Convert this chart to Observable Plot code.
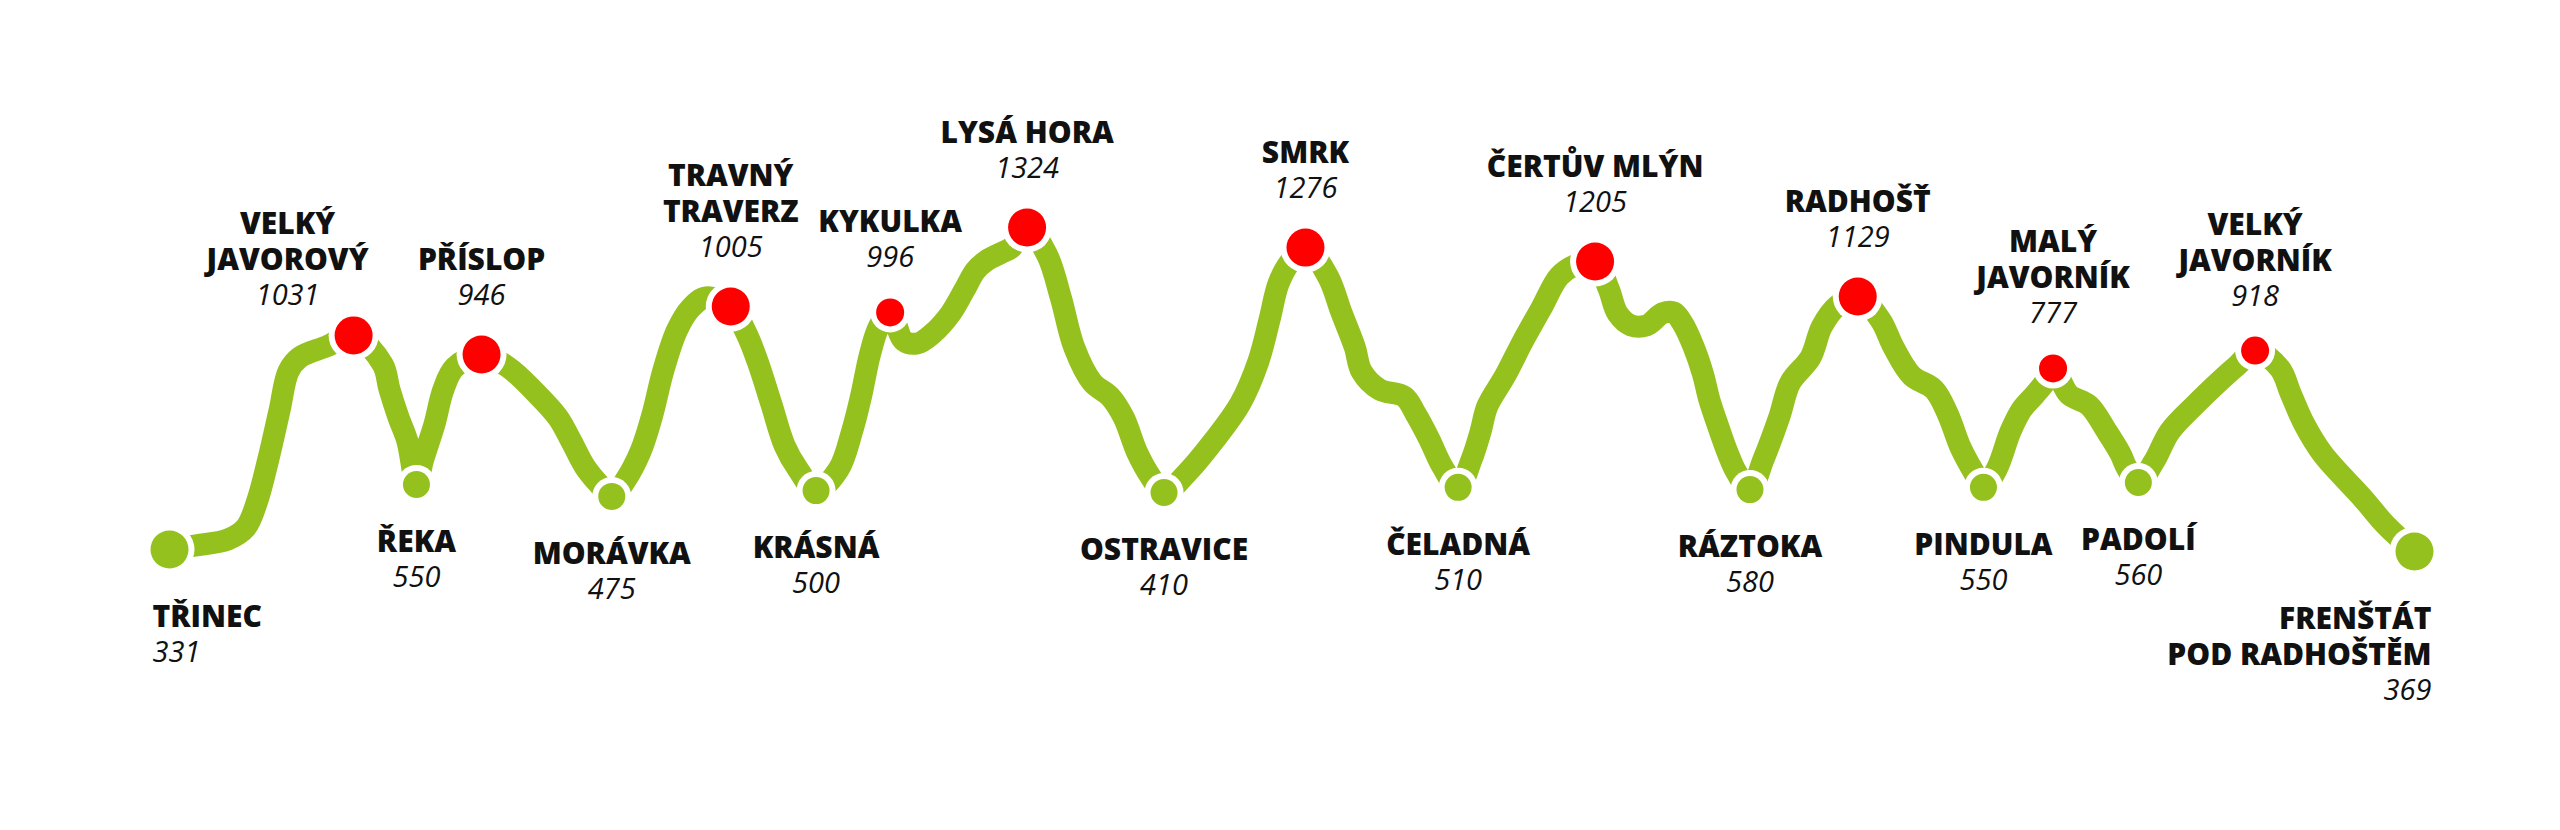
<!DOCTYPE html>
<html>
<head>
<meta charset="utf-8">
<script src="https://cdn.jsdelivr.net/npm/d3@7"></script>
<script src="https://cdn.jsdelivr.net/npm/@observablehq/plot@0.6"></script>
<style>
  html, body { margin: 0; padding: 0; background: #ffffff; }
  #chart svg { display: block; }
</style>
</head>
<body>
<div id="chart"></div>
<script>
// ---------- DATA ----------
// Stations along the ridge, in order
const stationNames = [
  "TŘINEC", "VELKÝ\nJAVOROVÝ", "ŘEKA", "PŘÍSLOP", "MORÁVKA",
  "TRAVNÝ\nTRAVERZ", "KRÁSNÁ", "KYKULKA", "LYSÁ HORA", "OSTRAVICE",
  "SMRK", "ČELADNÁ", "ČERTŮV MLÝN", "RÁZTOKA", "RADHOŠŤ",
  "PINDULA", "MALÝ\nJAVORNÍK", "PADOLÍ", "VELKÝ\nJAVORNÍK", "FRENŠTÁT\nPOD RADHOŠTĚM"
];
// Elevations in metres, as printed
const stationElevations = [331, 1031, 550, 946, 475, 1005, 500, 996, 1324, 410,
                           1276, 510, 1205, 580, 1129, 550, 777, 560, 918, 369];
// Kind of station: start/finish, main summit, minor summit, valley
const stationKinds = ["end", "peak", "valley", "peak", "valley", "peak", "valley", "minor", "peak", "valley",
                      "peak", "valley", "peak", "valley", "peak", "valley", "minor", "valley", "minor", "end"];
// Schematic distance (0–100) and schematic profile height (0–100) as drawn
const stationKm = [0, 8.2, 11.0, 13.9, 19.7, 25.0, 28.8, 32.1, 38.2, 44.3,
                   50.6, 57.4, 63.5, 70.4, 75.2, 80.8, 83.9, 87.7, 92.9, 100];
const stationHeight = [0.6, 66.7, 20.7, 60.8, 17.0, 75.6, 18.8, 73.8, 100, 18.2,
                       93.8, 19.8, 89.5, 19.1, 78.7, 19.8, 56.5, 21.3, 62.0, 0];

// The drawn profile line (schematic distance / schematic height)
const trackKm = [
  0, 1.2, 2.6, 3.4, 3.9, 4.4, 4.9, 5.3, 5.8, 7.0,
  8.2, 9.5, 9.8, 10.2, 10.6,
  11.0, 11.3, 11.8, 12.2, 12.7,
  13.9, 15.1, 16.3, 17.3, 17.9, 18.5, 19.1,
  19.7, 20.3, 21.0, 21.5, 22.0, 22.6, 23.2, 23.9,
  25.0, 25.7, 26.2, 26.8, 27.4, 28.0,
  28.8, 29.8, 30.4, 30.8, 31.2, 31.6,
  32.1, 32.7, 33.3, 34.0, 34.8, 35.4, 35.9, 36.4, 37.0, 37.5,
  38.2, 39.1, 39.7, 40.3, 41.1, 41.9, 42.5, 43.1, 43.7,
  44.3, 45.3, 46.5, 47.7, 48.5, 49.0, 49.4, 49.9,
  50.6, 51.6, 52.2, 52.8, 53.1, 53.9, 55.0, 55.5, 56.1, 56.7,
  57.4, 58.0, 58.4, 58.7, 59.5, 60.3, 61.1, 61.9, 62.6,
  63.5, 64.1, 64.5, 65.1, 65.8, 66.5, 67.0, 67.4, 67.9, 68.3, 68.6, 69.0, 69.4, 69.8,
  70.4, 71.0, 71.7, 72.2, 73.1, 73.6, 74.3,
  75.2, 76.2, 76.8, 77.6, 78.6, 79.2, 79.8, 80.4,
  80.8, 81.4, 82.0, 82.5, 83.1, 83.5,
  83.9, 84.6, 85.5, 86.3, 86.9, 87.2,
  87.7, 88.4, 89.1, 90.2, 91.4, 92.1,
  92.9, 94.0, 94.5, 95.1, 95.9, 96.8, 97.7, 98.7,
  100
];
const trackHeight = [
  0.6, 1.9, 3.7, 7.4, 15.4, 28.4, 43.5, 55.6, 59.9, 63.3,
  66.7, 57.7, 50.0, 41.4, 34.0,
  20.7, 28.4, 39.2, 50.0, 56.8,
  60.8, 56.8, 49.1, 41.4, 34.0, 26.2, 21.0,
  17.0, 21.9, 31.2, 42.0, 55.9, 68.2, 75.0, 78.4,
  75.6, 67.3, 58.6, 45.7, 32.7, 25.3,
  18.8, 25.3, 37.0, 47.8, 60.8, 69.4,
  73.8, 65.1, 64.2, 67.3, 73.5, 80.6, 86.7, 89.8, 92.0, 93.8,
  100, 91.4, 78.4, 63.0, 52.2, 47.8, 41.4, 30.6, 23.1,
  18.2, 24.1, 34.0, 45.7, 58.6, 71.6, 82.7, 89.2,
  93.8, 84.9, 73.8, 63.0, 55.6, 50.0, 47.8, 42.6, 34.9, 26.2,
  19.8, 28.4, 37.0, 44.8, 54.3, 65.1, 75.0, 84.9, 88.3,
  89.5, 81.2, 73.5, 69.8, 69.8, 73.5, 73.8, 70.4, 63.0, 54.9, 46.6, 38.3, 30.6, 24.4,
  19.1, 28.4, 41.4, 52.2, 59.9, 69.4, 75.9,
  78.7, 71.6, 63.0, 54.3, 50.0, 42.6, 31.8, 24.1,
  19.8, 25.6, 37.0, 43.8, 48.5, 51.9,
  56.5, 48.5, 45.1, 37.0, 30.2, 25.6,
  21.3, 27.8, 37.0, 45.1, 53.1, 57.4,
  62.0, 56.5, 48.5, 39.2, 30.2, 23.1, 16.4, 8.3,
  0
];

// ---------- STYLE ----------
const GREEN = "#95c11f";
const RED = "#fe0000";
const FONT = "'Open Sans', 'Noto Sans', sans-serif";
const NAME_SIZE = 30;
const NUM_SIZE = 29;
const NAME_GAP = 36;   // baseline distance between two name lines
const NUM_GAP = 35;    // baseline distance between name and elevation
const radius = {end: 19, peak: 19, minor: 14, valley: 13.5};
const RING = 6;
// label nudge where the designer moved a label to avoid a collision
const nudge = {"VELKÝ\nJAVOROVÝ": {dx: -66, dy: 20}};

// ---------- TABLES ----------
const stations = stationNames.map((name, i) => ({
  name, elevation: stationElevations[i], kind: stationKinds[i],
  km: stationKm[i], h: stationHeight[i]
}));
const track = trackKm.map((km, i) => ({km, h: trackHeight[i]}));

// one row per text line, with its baseline offset from the dot
const labelRows = [];
stations.forEach((s, i) => {
  const lines = s.name.split("\n");
  const r = radius[s.kind];
  const n = nudge[s.name] || {dx: 0, dy: 0};
  let anchor = "middle", dx = n.dx;
  if (i === 0) { anchor = "start"; dx = -17; }
  if (i === stations.length - 1) { anchor = "end"; dx = 17; }
  if (s.kind === "peak" || s.kind === "minor") {
    const numBase = -(r + 31) + n.dy;
    labelRows.push({...s, text: String(s.elevation), base: numBase, italic: true, anchor, dx});
    lines.forEach((t, j) => labelRows.push({
      ...s, text: t, italic: false, anchor, dx,
      base: numBase - NUM_GAP - NAME_GAP * (lines.length - 1 - j)
    }));
  } else {
    const first = r + 54 + (s.kind === "end" ? 4 : 0) + n.dy;
    lines.forEach((t, j) => labelRows.push({...s, text: t, base: first + NAME_GAP * j, italic: false, anchor, dx}));
    labelRows.push({
      ...s, text: String(s.elevation), italic: true, anchor, dx,
      base: first + NAME_GAP * (lines.length - 1) + NUM_GAP
    });
  }
});

const textMarks = d3.groups(labelRows, d => [d.base, d.anchor, d.dx, d.italic].join("|")).map(([, rows]) => {
  const r0 = rows[0];
  const fs = r0.italic ? NUM_SIZE : NAME_SIZE;
  return Plot.text(rows, {
    x: "km", y: "h", text: "text",
    dx: r0.dx, dy: r0.base - 0.32 * fs,   // default middle line anchor: baseline = y + 0.32em
    textAnchor: r0.anchor,
    fontFamily: FONT, fontSize: fs,
    fontWeight: r0.italic ? 400 : 800,
    fontStyle: r0.italic ? "italic" : "normal",
    fill: "#111111"
  });
});

const dotMarks = Object.keys(radius).flatMap(kind => {
  const rows = stations.filter(s => s.kind === kind);
  return [
    Plot.dot(rows, {x: "km", y: "h", r: radius[kind] + RING, fill: "#ffffff", stroke: null}),
    Plot.dot(rows, {x: "km", y: "h", r: radius[kind], fill: "kind", stroke: null})
  ];
});

const chart = Plot.plot({
  width: 2560,
  height: 830,
  marginLeft: 169,
  marginRight: 146,
  marginTop: 227,
  marginBottom: 279,
  x: {domain: [0, 100], axis: null},
  y: {domain: [0, 100], axis: null},
  color: {domain: ["end", "peak", "minor", "valley"], range: [GREEN, RED, RED, GREEN]},
  style: {background: "#ffffff", overflow: "visible"},
  marks: [
    Plot.line(track, {x: "km", y: "h", stroke: GREEN, strokeWidth: 22, curve: "catmull-rom", strokeLinejoin: "round"}),
    ...dotMarks,
    ...textMarks
  ]
});
document.getElementById("chart").appendChild(chart);
</script>
</body>
</html>
